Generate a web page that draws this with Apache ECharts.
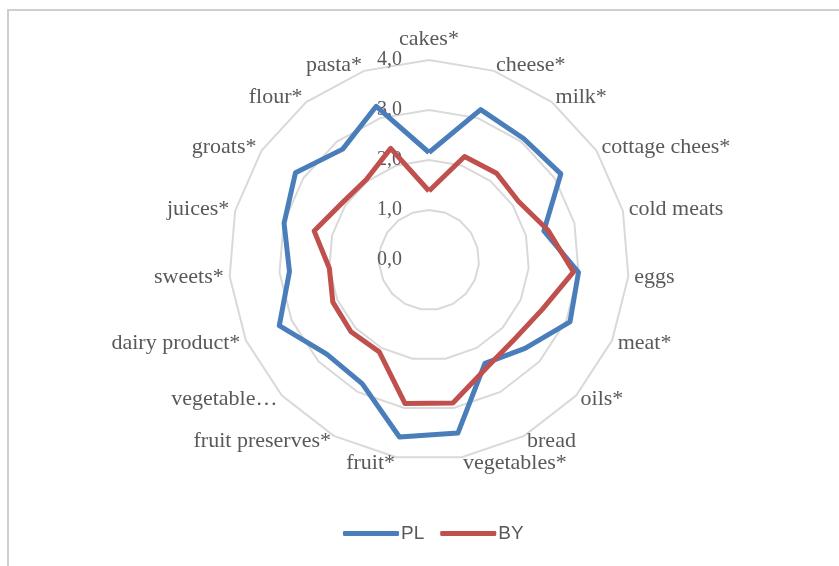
<!DOCTYPE html>
<html>
<head>
<meta charset="utf-8">
<script src="https://cdn.jsdelivr.net/npm/echarts@6/dist/echarts.min.js"></script>
<style>
html, body { margin: 0; padding: 0; background: #fff; }
#frame {
    position: absolute; left: 7px; top: 9px; right: 0; bottom: 0;
    border-top: 2px solid #cfcfcf; border-left: 2px solid #cfcfcf;
}
#main { position: absolute; left: 0; top: 0; width: 839px; height: 566px; }
</style>
</head>
<body>
<div id="frame"></div>
<div id="main"></div>
<script>
// categories clockwise from the top, as in the picture
var categories = ['cakes*', 'cheese*', 'milk*', 'cottage chees*', 'cold meats', 'eggs', 'meat*', 'oils*',
    'bread', 'vegetables*', 'fruit*', 'fruit preserves*', 'vegetable…', 'dairy product*', 'sweets*',
    'juices*', 'groats*', 'flour*', 'pasta*'];
var plValues = [2.15, 3.18, 3.08, 3.15, 2.37, 3.0, 3.08, 2.61, 2.35, 3.51, 3.59, 2.81, 2.78, 3.27, 2.8, 2.99, 3.19, 2.81, 3.25];
var byValues = [1.38, 2.19, 2.2, 2.14, 2.45, 2.9, 2.47, 2.33, 2.44, 2.9, 2.91, 2.09, 2.12, 2.1, 2.0, 2.37, 2.08, 2.04, 2.36];
var seriesNames = ['PL', 'BY'];
var axisMin = 0, axisMax = 4;

// echarts lays radar axes counterclockwise, so keep the first one and reverse the rest
var order = [0];
for (var i = categories.length - 1; i > 0; i--) order.push(i);
function reorder(arr) { return order.map(function (k) { return arr[k]; }); }

var indicators = reorder(categories).map(function (name, i) {
    var ind = { name: name, min: axisMin, max: axisMax };
    if (i === 0) {
        ind.axisLabel = {
            show: true,
            color: '#595959',
            fontFamily: 'Liberation Serif',
            fontSize: 20,
            margin: 27,
            formatter: function (v) { return v.toFixed(1).replace('.', ','); }
        };
    }
    return ind;
});

var chartDom = document.getElementById('main');
var myChart = echarts.init(chartDom);
var option = {
    animation: false,
    legend: {
        bottom: 18,
        left: 338,
        itemWidth: 56,
        itemHeight: 5,
        itemGap: 16,
        icon: 'roundRect',
        textStyle: { color: '#595959', fontFamily: 'Liberation Sans', fontSize: 19, padding: [0, 0, 0, -3] },
        data: seriesNames
    },
    radar: {
        center: [429, 260],
        radius: 200,
        shape: 'polygon',
        splitNumber: 4,
        nameGap: 6,
        axisName: { color: '#595959', fontFamily: 'Liberation Serif', fontSize: 22 },
        axisLine: { show: false },
        axisTick: { show: false },
        axisLabel: { show: false },
        splitLine: { lineStyle: { color: '#d9d9d9', width: 2 } },
        splitArea: { show: false },
        indicator: indicators
    },
    series: [{
        type: 'radar',
        symbol: 'none',
        data: [
            {
                name: seriesNames[0],
                value: reorder(plValues),
                lineStyle: { color: '#4a7ebb', width: 5 },
                itemStyle: { color: '#4a7ebb' }
            },
            {
                name: seriesNames[1],
                value: reorder(byValues),
                lineStyle: { color: '#c0504d', width: 5 },
                itemStyle: { color: '#c0504d' }
            }
        ]
    }]
};
option && myChart.setOption(option);
</script>
</body>
</html>
